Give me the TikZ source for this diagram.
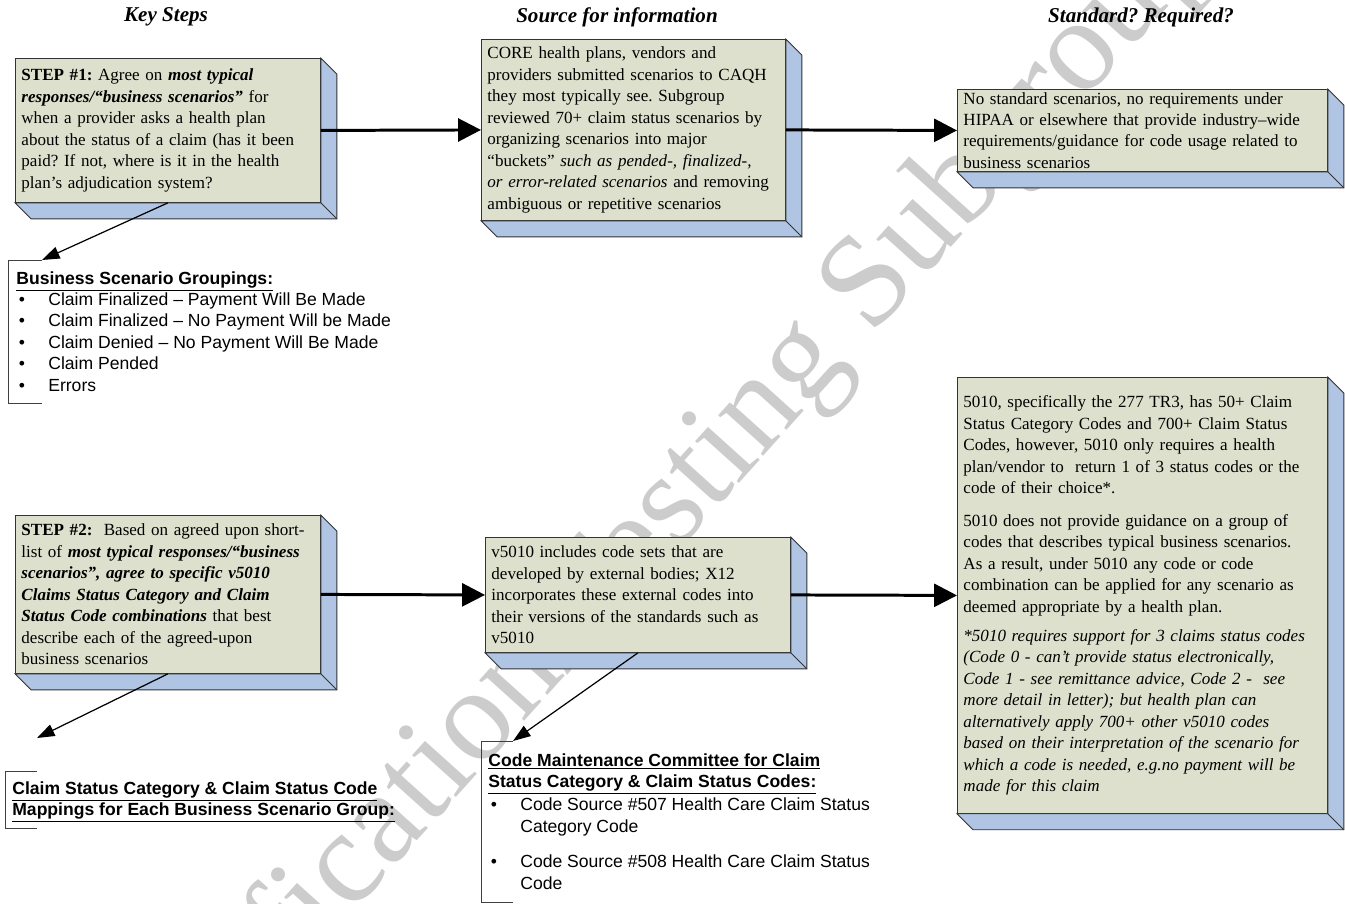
\documentclass[tikz,border=0pt]{standalone}
\usepackage{fontspec}
\setmainfont{Liberation Serif}
\setsansfont{Liberation Sans}
\usetikzlibrary{arrows.meta}
\frenchspacing

\definecolor{facegreen}{RGB}{221,224,204}
\definecolor{sideblue}{RGB}{176,197,227}

\tikzset{
  sideface/.style={fill=sideblue,draw=black!80,line width=0.5pt},
  bracket/.style={draw=black!75,line width=0.5pt}
}

\newcommand{\slab}[1]{%
  \filldraw[sideface] (#1.north east) -- ++(0.32cm,-0.32cm)
    -- ([shift={(0.32cm,-0.32cm)}]#1.south east)
    -- ([shift={(0.32cm,-0.32cm)}]#1.south west)
    -- (#1.south west) -- (#1.south east) -- cycle;
  \draw[sideface] (#1.south east) -- ++(0.32cm,-0.32cm);}
\newcommand{\itm}[1]{\makebox[0.64cm][l]{\hspace{1.5pt}\textbullet}#1}

\begin{document}
\begin{tikzpicture}[x=0.02cm,y=-0.02cm]
\useasboundingbox (0,0) rectangle (1345,903);

\node[rotate=48,text=black!20,font=\fontsize{75}{75}\selectfont] (wmark) at (644,541) {Certification/Testing Subgroup};

\begin{scope}[every node/.style={font=\bfseries\itshape\fontsize{12}{14}\selectfont}]
  \node (hdSteps) at (166,17) {Key Steps};
  \node (hdSource) at (617,17) {Source for information};
  \node (hdStandard) at (1141,17) {Standard? Required?};
\end{scope}

\begin{scope}[every node/.style={draw=black!80,line width=0.5pt,fill=facegreen,anchor=north west,align=left,
    inner xsep=0.12cm,inner ysep=0pt,font=\fontsize{9.7}{12.2}\selectfont}]
  \node[text width=5.86cm,minimum height=2.88cm] (step1) at (15,58) {%
    \textbf{STEP \#1:} Agree on \textbf{\textit{most typical}}\\
    \textbf{\textit{responses/“business scenarios”}} for\\
    when a provider asks a health plan\\
    about the status of a claim (has it been\\
    paid? If not, where is it in the health\\
    plan’s adjudication system?};
  \node[text width=5.84cm,minimum height=3.62cm] (source1) at (481,39) {%
    CORE health plans, vendors and\\
    providers submitted scenarios to CAQH\\
    they most typically see. Subgroup\\
    reviewed 70+ claim status scenarios by\\
    organizing scenarios into major\\
    “buckets” \textit{such as pended-, finalized-,}\\
    \textit{or error-related scenarios} and removing\\
    ambiguous or repetitive scenarios};
  \node[text width=7.16cm,minimum height=1.64cm] (standard1) at (957,89) {%
    No standard scenarios, no requirements under\\
    HIPAA or elsewhere that provide industry–wide\\
    requirements/guidance for code usage related to\\
    business scenarios};
  \node[text width=5.86cm,minimum height=3.16cm] (step2) at (15,515) {%
    \textbf{STEP \#2:}~ Based on agreed upon short-\\
    list of \textbf{\textit{most typical responses/“business}}\\
    \textbf{\textit{scenarios”, agree to specific v5010}}\\
    \textbf{\textit{Claims Status Category and Claim}}\\
    \textbf{\textit{Status Code combinations}} that best\\
    describe each of the agreed-upon\\
    business scenarios};
  \node[text width=5.86cm,minimum height=2.30cm] (source2) at (485,537) {%
    v5010 includes code sets that are\\
    developed by external bodies; X12\\
    incorporates these external codes into\\
    their versions of the standards such as\\
    v5010};
  \node[text width=7.16cm,minimum height=8.72cm] (standard2) at (957,377) {%
    5010, specifically the 277 TR3, has 50+ Claim\\
    Status Category Codes and 700+ Claim Status\\
    Codes, however, 5010 only requires a health\\
    plan/vendor to~ return 1 of 3 status codes or the\\
    code of their choice*.\\[6.5pt]
    5010 does not provide guidance on a group of\\
    codes that describes typical business scenarios.\\
    As a result, under 5010 any code or code\\
    combination can be applied for any scenario as\\
    deemed appropriate by a health plan.\\[4.5pt]
    \textit{*5010 requires support for 3 claims status codes}\\
    \textit{(Code 0 - can’t provide status electronically,}\\
    \textit{Code 1 - see remittance advice, Code 2 -~ see}\\
    \textit{more detail in letter); but health plan can}\\
    \textit{alternatively apply 700+ other v5010 codes}\\
    \textit{based on their interpretation of the scenario for}\\
    \textit{which a code is needed, e.g.no payment will be}\\
    \textit{made for this claim}};
\end{scope}

\slab{step1}
\slab{source1}
\slab{standard1}
\slab{step2}
\slab{source2}
\slab{standard2}

\begin{scope}[every node/.style={anchor=north west,align=left,inner sep=0pt,font=\sffamily\fontsize{10}{12.2}\selectfont}]
  \node (groups) at (16,271) {%
    \underline{\textbf{Business Scenario Groupings:}}\\
    \itm{Claim Finalized – Payment Will Be Made}\\
    \itm{Claim Finalized – No Payment Will be Made}\\
    \itm{Claim Denied – No Payment Will Be Made}\\
    \itm{Claim Pended}\\
    \itm{Errors}};
  \node (mappings) at (12,781) {%
    \underline{\textbf{Claim Status Category \& Claim Status Code}}\\
    \underline{\textbf{Mappings for Each Business Scenario Group:}}};
  \node (codes) at (488,753) {%
    \underline{\textbf{Code Maintenance Committee for Claim}}\\
    \underline{\textbf{Status Category \& Claim Status Codes:}}\\[1pt]
    \itm{Code Source \#507 Health Care Claim Status}\\
    \hspace*{0.64cm}Category Code\\[8pt]
    \itm{Code Source \#508 Health Care Claim Status}\\
    \hspace*{0.64cm}Code};
\end{scope}

\coordinate (groupsTip) at (42,260);
\coordinate (mappingsTip) at (37,738);
\coordinate (codesTip) at (513,741);

\draw[bracket] (groupsTip) -- (8,260) -- (8,403) -- (42,403);
\draw[bracket] (37,771) -- (5,771) -- (5,828) -- (37,828);
\draw[bracket] (codesTip) -- (481,741) -- (481,902) -- (513,902);

\begin{scope}[every edge/.style={draw,line width=1.7pt,-{Triangle[length=13pt,width=13pt]}}]
  \path (step1.east) edge (source1.west);
  \path (source1.east) edge (standard1.west);
  \path (step2.east) edge (source2.west);
  \path (source2.east) edge (standard2.west);
\end{scope}

\begin{scope}[every edge/.style={draw,line width=0.7pt,-{Triangle[length=10pt,width=7pt]}}]
  \path (step1.south) edge (groupsTip);
  \path (step2.south) edge (mappingsTip);
  \path (source2.south) edge (codesTip);
\end{scope}

\end{tikzpicture}
\end{document}
